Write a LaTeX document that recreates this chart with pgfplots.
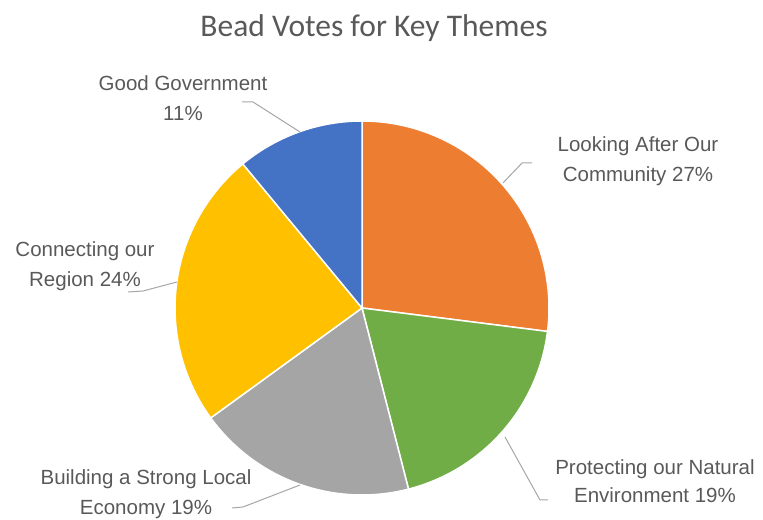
\documentclass[border=0pt]{standalone}
\usepackage{fontspec}
\setmainfont{Liberation Sans}
\newfontfamily\titlefont{Carlito}
\usepackage{pgfplots}
\pgfplotsset{compat=1.18}
\definecolor{cOrange}{HTML}{ED7D31}
\definecolor{cGreen}{HTML}{70AD47}
\definecolor{cGray}{HTML}{A5A5A5}
\definecolor{cYellow}{HTML}{FFC000}
\definecolor{cBlue}{HTML}{4472C4}
\definecolor{txt}{HTML}{595959}
\definecolor{lead}{HTML}{A6A6A6}
\begin{document}
\begin{tikzpicture}
\begin{axis}[
  x=1pt, y=1pt,
  xmin=0, xmax=763, ymin=0, ymax=517,
  hide axis, clip=false,
]
\path (rel axis cs:0,0) rectangle (rel axis cs:1,1);
% shares (percent): Looking After 27, Protecting 19, Building 19, Connecting 24, Good Government 11
% angles: 3.6 deg per percent, clockwise from 90 deg
\addplot[fill=cOrange, draw=white, line width=1.5pt, domain=-7.2:90, samples=90]
  ({362+187*cos(x)},{209+187*sin(x)}) -- (362,209) -- cycle;
\addplot[fill=cGreen, draw=white, line width=1.5pt, domain=-75.6:-7.2, samples=70]
  ({362+187*cos(x)},{209+187*sin(x)}) -- (362,209) -- cycle;
\addplot[fill=cGray, draw=white, line width=1.5pt, domain=-144:-75.6, samples=70]
  ({362+187*cos(x)},{209+187*sin(x)}) -- (362,209) -- cycle;
\addplot[fill=cYellow, draw=white, line width=1.5pt, domain=-230.4:-144, samples=80]
  ({362+187*cos(x)},{209+187*sin(x)}) -- (362,209) -- cycle;
\addplot[fill=cBlue, draw=white, line width=1.5pt, domain=-270:-230.4, samples=40]
  ({362+187*cos(x)},{209+187*sin(x)}) -- (362,209) -- cycle;
% leader lines
\addplot[lead, line width=1pt] coordinates {(242,415) (253,415) (300,385)};
\addplot[lead, line width=1pt] coordinates {(532,354) (522,354) (503,334)};
\addplot[lead, line width=1pt] coordinates {(128,225) (143,226) (177,235)};
\addplot[lead, line width=1pt] coordinates {(232,9) (243,10) (300,32)};
\addplot[lead, line width=1pt] coordinates {(548,17) (540,17) (505,80)};
% labels
\tikzset{lab/.style={anchor=base, text=txt, inner sep=0pt, font=\fontsize{20.5}{24}\selectfont}}
\node[lab] at (183,426) {Good Government};
\node[lab] at (183,396) {11\%};
\node[lab] at (638,365) {Looking After Our};
\node[lab] at (638,335) {Community 27\%};
\node[lab] at (85,260) {Connecting our};
\node[lab] at (85,230) {Region 24\%};
\node[lab] at (146,32) {Building a Strong Local};
\node[lab] at (146,2) {Economy 19\%};
\node[lab] at (655,42) {Protecting our Natural};
\node[lab] at (655,14) {Environment 19\%};
\node[anchor=base, text=txt, inner sep=0pt, font=\titlefont\fontsize{31.5}{36}\selectfont] at (374,480) {Bead Votes for Key Themes};
\end{axis}
\end{tikzpicture}
\end{document}
